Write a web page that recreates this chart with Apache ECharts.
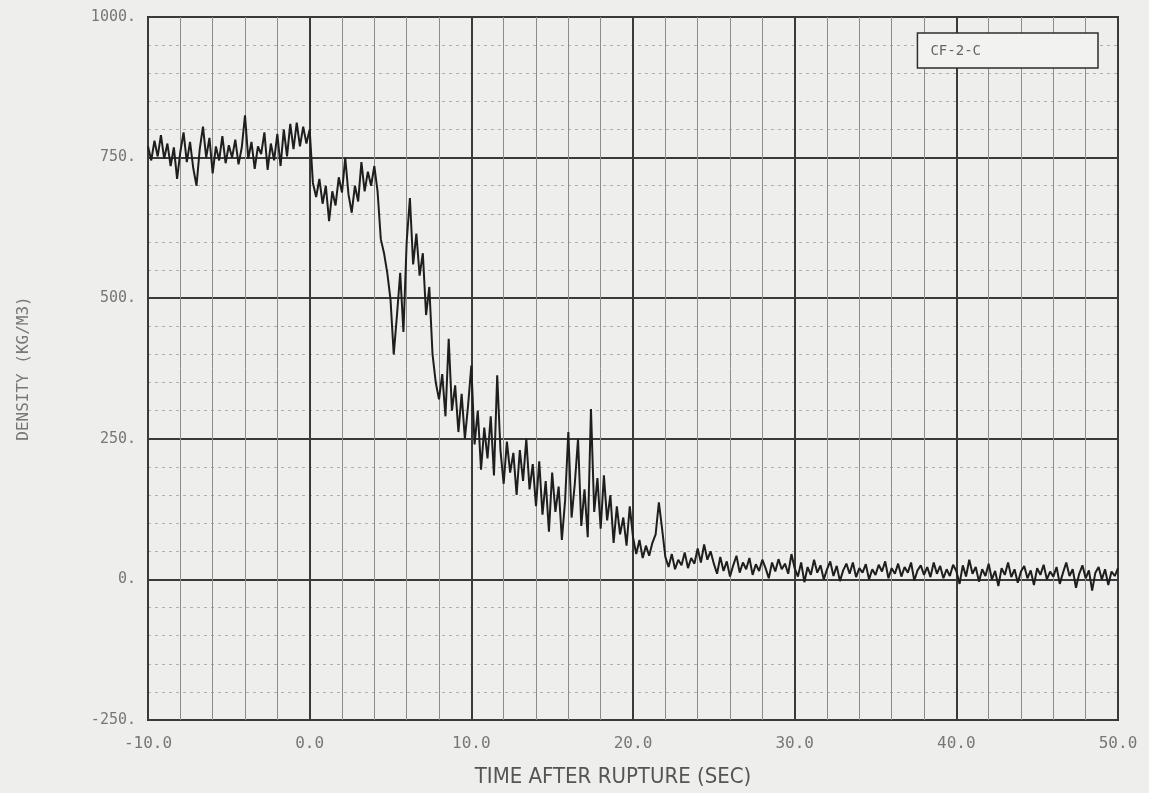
<!DOCTYPE html>
<html>
<head>
<meta charset="utf-8">
<script src="https://cdn.jsdelivr.net/npm/echarts@6/dist/echarts.min.js"></script>
<style>
  html, body { margin: 0; padding: 0; background: #eeeeec; }
  #main { width: 1149px; height: 793px; }
</style>
</head>
<body>
<div id="main"></div>
<script>
// sample clock of the recorder trace (sec after rupture)
var tStart = -10.0;
var tStep = 0.2;

// density trace, kg/m3, one value per 0.2 s
var preRupture = [
    770, 745, 780, 752, 790, 748, 775, 735, 768, 712,
    760, 795, 742, 778, 731, 700, 765, 805, 750, 785,
    722, 770, 745, 788, 740, 772, 750, 782, 738, 768,
    825, 748, 778, 730, 770, 756, 795, 728, 775, 745,
    792, 735, 800, 752, 810, 765, 812, 770, 805, 775
];
var earlyBlowdown = [
    800, 705, 680, 712, 668, 700, 637, 690, 665, 715,
    688, 750, 685, 652, 700, 672, 742, 690, 725, 700
];
var fastDrop = [
    735, 690, 605, 580, 545, 498, 400, 470, 545, 440,
    600, 678, 560, 615, 540, 580, 470, 520, 400, 350
];
var twoPhase = [
    320, 365, 290, 428, 300, 345, 262, 330, 250, 310,
    380, 240, 300, 195, 270, 215, 290, 185, 363, 230,
    170, 245, 190, 225, 150, 230, 175, 250, 160, 205,
    130, 210, 115, 175, 85, 190, 120, 165, 70, 140,
    262, 110, 170, 250, 95, 160, 75, 303, 120, 180,
    90, 185, 105, 150, 65, 130, 80, 110, 60, 130,
    75, 45, 70, 38, 60, 42, 65, 80, 137, 90
];
var tailOff = [
    40, 22, 45, 18, 35, 25, 48, 20, 38, 28,
    55, 30, 62, 35, 50,
    28, 10, 40, 15, 32, 5, 25, 42, 12, 30,
    18, 38, 8, 27, 15, 35, 20, 2, 30, 14,
    36, 18, 28, 10, 45
];
var steam = [
    20, 5, 30, -5, 22, 8, 35, 12, 25, 0,
    18, 32, 6, 24, -3, 16, 28, 10, 30, 4,
    20, 12, 27, 0, 18, 8, 26, 14, 32, 2,
    20, 10, 28, 5, 22, 12, 30, -2, 16, 25,
    8, 22, 4, 30, 10, 24, 2, 18, 6, 26,
    15, -8, 25, 5, 35, 10, 22, -4, 18, 6,
    28, 0, 15, -12, 20, 8, 30, 4, 18, -6,
    14, 24, 2, 16, -10, 20, 8, 26, 0, 14,
    5, 22, -8, 12, 30, 6, 18, -15, 10, 25,
    2, 16, -20, 12, 22, 0, 18, -10, 14, 6,
    20
];

var xTicks = [-10, 0, 10, 20, 30, 40, 50];
var yTicks = [-250, 0, 250, 500, 750, 1000];

var density = preRupture.concat(earlyBlowdown, fastDrop, twoPhase, tailOff, steam);
var trace = [];
for (var i = 0; i < density.length; i++) {
    trace.push([+(tStart + i * tStep).toFixed(1), density[i]]);
}

var labelFont = '"DejaVu Sans Mono", monospace';
var myChart = echarts.init(document.getElementById('main'));
var option = {
    backgroundColor: '#eeeeec',
    animation: false,
    grid: {
        left: 148, right: 31, top: 17, bottom: 72,
        show: true,
        borderColor: '#2e2e2e',
        borderWidth: 2
    },
    legend: {
        data: ['CF-2-C'],
        right: 51,
        top: 33,
        icon: 'none',
        itemWidth: 0,
        itemHeight: 0,
        padding: [11, 117, 10, 8],
        backgroundColor: '#f2f2f0',
        borderColor: '#2e2e2e',
        borderWidth: 1.5,
        selectedMode: false,
        textStyle: { color: '#666', fontFamily: labelFont, fontSize: 14 }
    },
    xAxis: {
        type: 'value',
        min: xTicks[0],
        max: xTicks[xTicks.length - 1],
        interval: 10,
        name: 'TIME AFTER RUPTURE (SEC)',
        nameLocation: 'middle',
        nameGap: 46,
        nameTextStyle: {
            color: '#555',
            fontFamily: '"DejaVu Sans Condensed", "Liberation Sans Narrow", sans-serif',
            fontSize: 22,
            padding: [0, 40, 0, 0]
        },
        axisLine: { show: false },
        axisTick: { show: false },
        axisLabel: {
            margin: 16,
            color: '#777',
            fontFamily: labelFont,
            fontSize: 16,
            formatter: function (value) {
                return new Number(value).toFixed(1);
            }
        },
        splitLine: { show: true, lineStyle: { color: '#3a3a3a', width: 2 } },
        minorTick: { show: false, splitNumber: 5 },
        minorSplitLine: { show: true, lineStyle: { color: '#8c8c8c', width: 1 } }
    },
    yAxis: {
        type: 'value',
        min: yTicks[0],
        max: yTicks[yTicks.length - 1],
        interval: 250,
        name: 'DENSITY (KG/M3)',
        nameLocation: 'middle',
        nameGap: 116,
        nameTextStyle: { color: '#777', fontFamily: labelFont, fontSize: 16 },
        axisLine: { show: false },
        axisTick: { show: false },
        axisLabel: {
            margin: 12,
            color: '#777',
            fontFamily: labelFont,
            fontSize: 15,
            formatter: function (value) {
                return value + '.';
            }
        },
        splitLine: { show: true, lineStyle: { color: '#3a3a3a', width: 2 } },
        minorTick: { show: false, splitNumber: 5 },
        minorSplitLine: { show: true, lineStyle: { color: '#b0b0b0', width: 1, type: [3, 4] } }
    },
    series: [{
        name: 'CF-2-C',
        type: 'line',
        data: trace,
        showSymbol: false,
        lineStyle: { color: '#1e1e1e', width: 2 }
    }]
};
myChart.setOption(option);
</script>
</body>
</html>
